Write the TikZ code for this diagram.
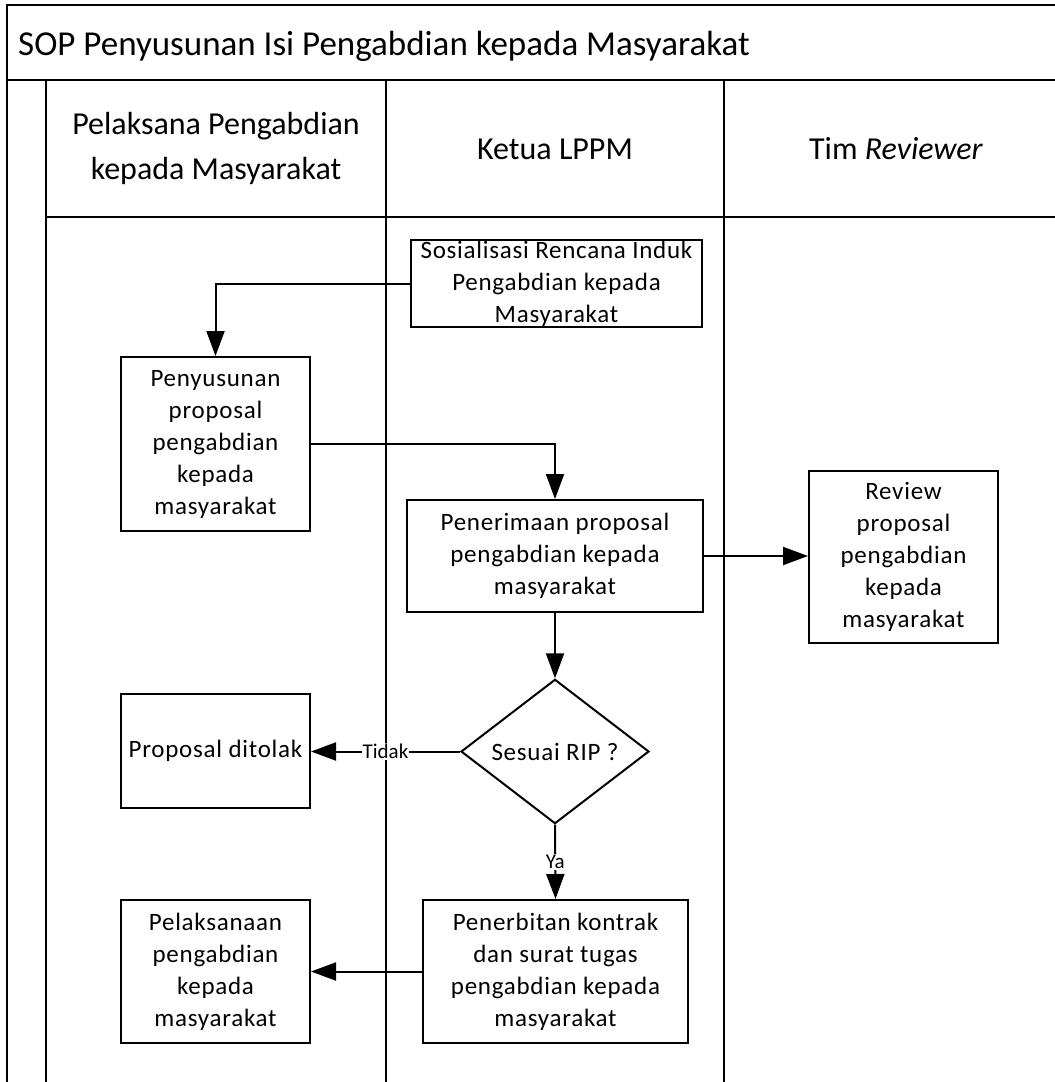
\documentclass[tikz,border=0pt]{standalone}
\usepackage{fontspec}
\setmainfont{Carlito}
\newfontfamily\boxfont[LetterSpace=3]{Carlito}
\usetikzlibrary{arrows.meta,shapes.geometric}
\begin{document}
\begin{tikzpicture}[x=1pt,y=-1pt,
  frame/.style={line width=2pt},
  box/.style={draw,line width=2pt,rectangle,inner sep=0pt,align=center,
    font=\boxfont\fontsize{25}{32}\selectfont},
  dia/.style={draw,line width=2pt,diamond,inner sep=0pt,align=center,
    font=\boxfont\fontsize{25}{32}\selectfont},
  conn/.style={line width=2pt,-{Triangle[length=25pt,width=18pt]}},
  lbl/.style={fill=white,inner sep=1pt,font=\fontsize{21}{25}\selectfont},
  hdr/.style={inner sep=0pt,align=center,font=\fontsize{32}{45}\selectfont}]
\useasboundingbox (0,0) rectangle (1055,1082);
% frame
\draw[frame] (1060,5) -- (7,5) -- (7,1090);
\draw[frame] (7,80) -- (1060,80);
\draw[frame] (46,80) -- (46,1090);
\draw[frame] (46,217) -- (1060,217);
\draw[frame] (386,80) -- (386,1090);
\draw[frame] (724,80) -- (724,1090);
% title and headers
\node[anchor=base west,inner sep=0pt,font=\fontsize{35}{42}\selectfont] (title) at (18,55) {SOP Penyusunan Isi Pengabdian kepada Masyarakat};
\node[hdr] (h1) at (216,148) {Pelaksana Pengabdian\\kepada Masyarakat};
\node[hdr,anchor=base] (h2) at (555,159) {Ketua LPPM};
\node[hdr,anchor=base] (h3) at (896,159) {Tim \textit{Reviewer}};
% boxes
\node[box,minimum width=291pt,minimum height=87pt] (sos) at (556.5,283.5) {Sosialisasi Rencana Induk\\Pengabdian kepada\\Masyarakat};
\node[box,minimum width=189pt,minimum height=174pt] (pen) at (215.5,444) {Penyusunan\\proposal\\pengabdian\\kepada\\masyarakat};
\node[box,minimum width=296pt,minimum height=112pt] (ter) at (555,556) {Penerimaan proposal\\pengabdian kepada\\masyarakat};
\node[box,minimum width=189pt,minimum height=172pt] (rev) at (903.5,557) {Review\\proposal\\pengabdian\\kepada\\masyarakat};
\node[dia,minimum width=188pt,minimum height=113pt] (sesuai) at (555,751.5) {Sesuai RIP ?};
\node[box,minimum width=189pt,minimum height=114pt] (tol) at (215.5,751) {Proposal ditolak};
\node[box,minimum width=265pt,minimum height=143pt] (kon) at (555.5,971.5) {Penerbitan kontrak\\dan surat tugas\\pengabdian kepada\\masyarakat};
\node[box,minimum width=189pt,minimum height=143pt] (pel) at (215.5,971.5) {Pelaksanaan\\pengabdian\\kepada\\masyarakat};
% connectors
\draw[conn] (sos.west) -| (pen.north);
\draw[conn] (pen.east) -| (ter.north);
\draw[conn] (ter.east) -- (ter.east -| rev.west);
\draw[conn] (ter.south) -- (sesuai.north);
\draw[conn] (sesuai.west) -- node[lbl] {Tidak} (sesuai.west -| tol.east);
\draw[conn] (sesuai.south) -- node[lbl] {Ya} (kon.north);
\draw[conn] (kon.west) -- (kon.west -| pel.east);
\end{tikzpicture}
\end{document}
